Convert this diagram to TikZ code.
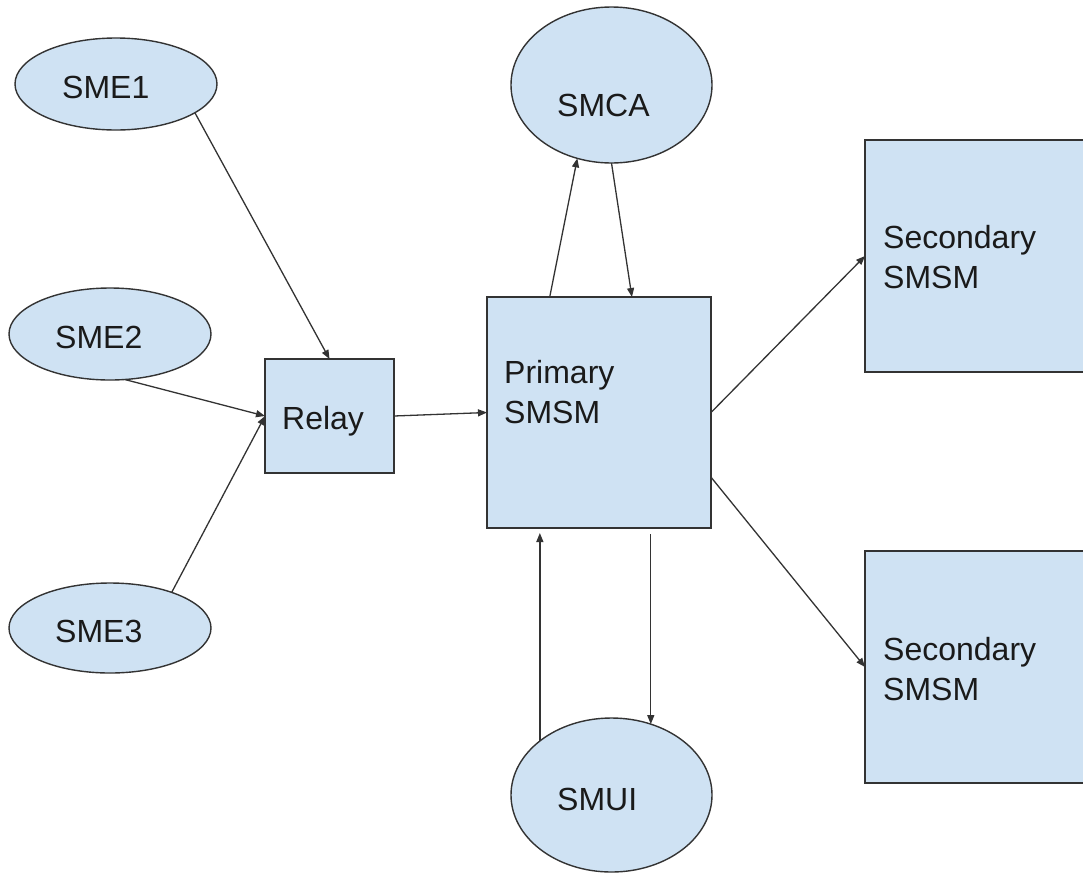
\documentclass[tikz,border=0pt]{standalone}
\usepackage{fontspec}
\setmainfont{Liberation Sans}
\usetikzlibrary{shapes.geometric,arrows.meta,calc}
\definecolor{boxfill}{HTML}{CFE2F3}
\definecolor{edge}{HTML}{333333}
\definecolor{ink}{HTML}{1A1A1A}

\begin{document}
\begin{tikzpicture}[x=1pt,y=-1pt,
  shapebase/.style={draw=edge, line width=1.4pt, fill=boxfill, inner sep=0pt, outer sep=0pt},
  oval/.style={shapebase, ellipse},
  block/.style={shapebase, rectangle},
  lbl/.style={anchor=base west, inner sep=0pt, text=ink, font=\fontsize{32}{40}\selectfont},
  link/.style={draw=edge, line width=1.3pt, -{Triangle[length=9pt,width=7pt]}}]

\useasboundingbox (0,0) rectangle (1083,873);

% sources on the left
\node[oval, minimum width=202pt, minimum height=92pt] (sme1) at (116,84) {};
\node[oval, minimum width=202pt, minimum height=92pt] (sme2) at (110,334) {};
\node[oval, minimum width=202pt, minimum height=90pt] (sme3) at (110,628) {};

% relay and primary
\node[block, minimum width=129pt, minimum height=114pt] (relay) at (329.5,416) {};
\node[block, minimum width=224pt, minimum height=231pt] (primary) at (599,412.5) {};

% control agent and user interface
\node[oval, minimum width=201pt, minimum height=156pt] (smca) at (611.5,85) {};
\node[oval, minimum width=201pt, minimum height=154pt] (smui) at (611.5,795) {};

% secondaries, running past the right edge
\node[block, minimum width=235pt, minimum height=232pt] (sec1) at (982.5,256) {};
\node[block, minimum width=235pt, minimum height=232pt] (sec2) at (982.5,667) {};

% labels (multi-line ones are placed by their last baseline)
\node[lbl] (t-sme1) at (62,98) {SME1};
\node[lbl] (t-sme2) at (55,348) {SME2};
\node[lbl] (t-sme3) at (55,642) {SME3};
\node[lbl] (t-relay) at (282,429) {Relay};
\node[lbl] (t-smca) at (557,116) {SMCA};
\node[lbl] (t-smui) at (557,810) {SMUI};
\node[lbl, align=left] (t-primary) at (504,423) {Primary\\SMSM};
\node[lbl, align=left] (t-sec1) at (883,288) {Secondary\\SMSM};
\node[lbl, align=left] (t-sec2) at (883,700) {Secondary\\SMSM};

% connectors
\draw[link] (sme1.-20) -- (relay.north);
\draw[link] (sme2.-72) -- (relay.west);
\draw[link] (sme3.30) -- (relay.west);
\draw[link] (relay.east) -- (primary.west);
\draw[link] ($(primary.north west)!0.28!(primary.north east)$) -- (smca.-115);
\draw[link] (smca.south) -- ($(primary.north west)!0.647!(primary.north east)$);
\draw[link] (primary.east) -- (sec1.west);
\draw[link] ($(primary.north east)!0.78!(primary.south east)$) -- (sec2.west);
\draw[link, shorten >=5pt] (smui.143) -- (smui.143 |- primary.south);
\draw[link, shorten <=6pt] (smui.61 |- primary.south) -- (smui.61);
\end{tikzpicture}
\end{document}
